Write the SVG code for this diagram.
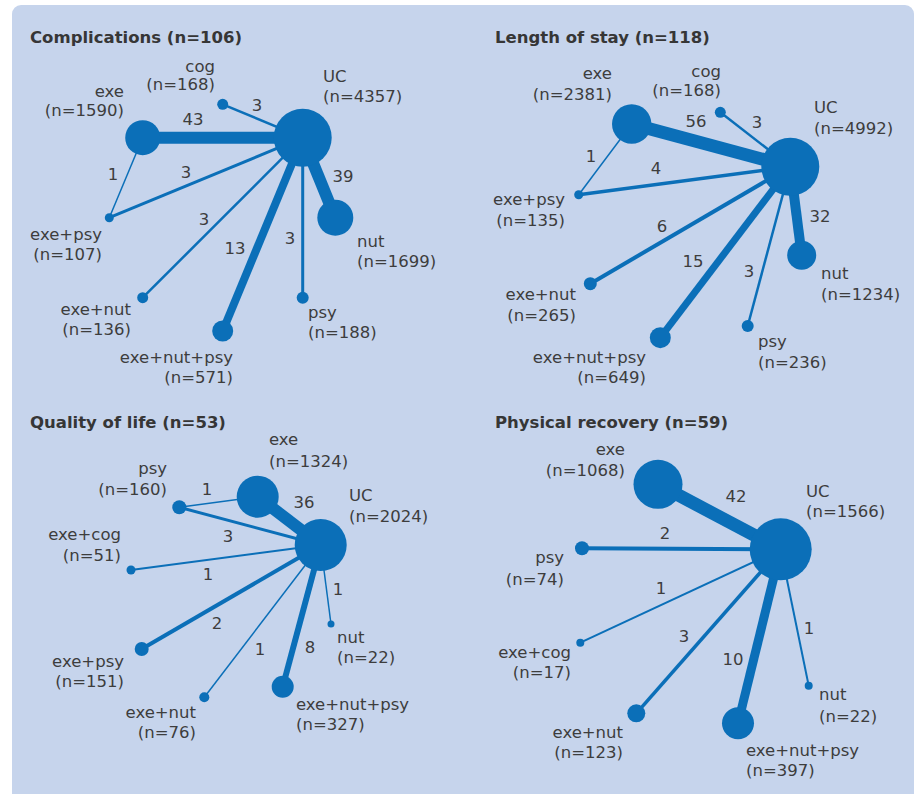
<svg xmlns="http://www.w3.org/2000/svg" width="916" height="794" viewBox="0 0 916 794">
<style>
.bg{fill:#c6d4ec}
.n{fill:#0b6fb8}
.e{stroke:#0b6fb8;fill:none;stroke-linecap:butt}
text{font-family:"DejaVu Sans","Liberation Sans",sans-serif;font-size:16.5px;fill:#3d3d3d}
.t{font-weight:bold;fill:#363636}
.r{text-anchor:end}
.m{text-anchor:middle}
</style>
<rect x="0" y="0" width="916" height="794" fill="#ffffff"/>
<rect class="bg" x="12" y="5" width="902" height="810" rx="9"/>

<!-- Panel 1: Complications -->
<text class="t" x="30" y="43">Complications (n=106)</text>
<g id="p1-connectors">
<line class="e" x1="142.7" y1="137.7" x2="302.7" y2="137.7" stroke-width="12"/>
<line class="e" x1="222.7" y1="104.3" x2="302.7" y2="137.7" stroke-width="2.5"/>
<line class="e" x1="142.7" y1="137.7" x2="109.3" y2="217.7" stroke-width="1.5"/>
<line class="e" x1="109.3" y1="217.7" x2="302.7" y2="137.7" stroke-width="3"/>
<line class="e" x1="142.7" y1="297.7" x2="302.7" y2="137.7" stroke-width="2.5"/>
<line class="e" x1="222.7" y1="331" x2="302.7" y2="137.7" stroke-width="8"/>
<line class="e" x1="302.7" y1="297.7" x2="302.7" y2="137.7" stroke-width="3"/>
<line class="e" x1="335.3" y1="217.7" x2="302.7" y2="137.7" stroke-width="12"/>
<text class="m" x="193" y="125">43</text>
<text class="m" x="257" y="111">3</text>
<text class="m" x="113" y="180">1</text>
<text class="m" x="186" y="178">3</text>
<text class="m" x="204" y="225">3</text>
<text class="m" x="235" y="254">13</text>
<text class="m" x="290" y="244">3</text>
<text class="m" x="343" y="182">39</text>
</g>
<g id="p1-uc"><circle class="n" cx="302.7" cy="137.7" r="29"/><text x="323" y="82">UC</text><text x="323" y="101.5">(n=4357)</text></g>
<g id="p1-exe"><circle class="n" cx="142.7" cy="137.7" r="17.5"/><text class="r" x="124" y="97">exe</text><text class="r" x="124" y="116">(n=1590)</text></g>
<g id="p1-cog"><circle class="n" cx="222.7" cy="104.3" r="5.5"/><text class="r" x="215" y="72">cog</text><text class="r" x="215" y="90">(n=168)</text></g>
<g id="p1-exe-psy"><circle class="n" cx="109.3" cy="217.7" r="4.5"/><text class="r" x="102" y="240">exe+psy</text><text class="r" x="102" y="260">(n=107)</text></g>
<g id="p1-exe-nut"><circle class="n" cx="142.7" cy="297.7" r="5.5"/><text class="r" x="131" y="315">exe+nut</text><text class="r" x="131" y="335">(n=136)</text></g>
<g id="p1-exe-nut-psy"><circle class="n" cx="222.7" cy="331" r="10.5"/><text class="r" x="233" y="363">exe+nut+psy</text><text class="r" x="233" y="383">(n=571)</text></g>
<g id="p1-psy"><circle class="n" cx="302.7" cy="297.7" r="6"/><text x="308" y="318">psy</text><text x="308" y="338">(n=188)</text></g>
<g id="p1-nut"><circle class="n" cx="335.3" cy="217.7" r="18"/><text x="357" y="247">nut</text><text x="357" y="267">(n=1699)</text></g>

<!-- Panel 2: Length of stay -->
<text class="t" x="495" y="43">Length of stay (n=118)</text>
<g id="p2-connectors">
<line class="e" x1="631.7" y1="124" x2="790.3" y2="166.7" stroke-width="13"/>
<line class="e" x1="720.3" y1="112.3" x2="790.3" y2="166.7" stroke-width="2.5"/>
<line class="e" x1="631.7" y1="124" x2="578.7" y2="194.7" stroke-width="1.5"/>
<line class="e" x1="578.7" y1="194.7" x2="790.3" y2="166.7" stroke-width="3.5"/>
<line class="e" x1="590.3" y1="283.7" x2="790.3" y2="166.7" stroke-width="4"/>
<line class="e" x1="660.3" y1="337.7" x2="790.3" y2="166.7" stroke-width="7"/>
<line class="e" x1="747.7" y1="326" x2="790.3" y2="166.7" stroke-width="2.5"/>
<line class="e" x1="801.7" y1="255.3" x2="790.3" y2="166.7" stroke-width="10"/>
<text class="m" x="696" y="127">56</text>
<text class="m" x="757" y="128">3</text>
<text class="m" x="591" y="162">1</text>
<text class="m" x="656" y="174">4</text>
<text class="m" x="662" y="232">6</text>
<text class="m" x="693" y="267">15</text>
<text class="m" x="749" y="277">3</text>
<text class="m" x="820" y="222">32</text>
</g>
<g id="p2-uc"><circle class="n" cx="790.3" cy="166.7" r="29"/><text x="814" y="113">UC</text><text x="814" y="134">(n=4992)</text></g>
<g id="p2-exe"><circle class="n" cx="631.7" cy="124" r="19.7"/><text class="r" x="612" y="79">exe</text><text class="r" x="612" y="100">(n=2381)</text></g>
<g id="p2-cog"><circle class="n" cx="720.3" cy="112.3" r="5.5"/><text class="r" x="721" y="77">cog</text><text class="r" x="721" y="96">(n=168)</text></g>
<g id="p2-exe-psy"><circle class="n" cx="578.7" cy="194.7" r="4.5"/><text class="r" x="565" y="205">exe+psy</text><text class="r" x="565" y="226">(n=135)</text></g>
<g id="p2-exe-nut"><circle class="n" cx="590.3" cy="283.7" r="6.5"/><text class="r" x="576" y="300">exe+nut</text><text class="r" x="576" y="321">(n=265)</text></g>
<g id="p2-exe-nut-psy"><circle class="n" cx="660.3" cy="337.7" r="10.5"/><text class="r" x="646" y="363">exe+nut+psy</text><text class="r" x="646" y="383">(n=649)</text></g>
<g id="p2-psy"><circle class="n" cx="747.7" cy="326" r="6"/><text x="758" y="347">psy</text><text x="758" y="368">(n=236)</text></g>
<g id="p2-nut"><circle class="n" cx="801.7" cy="255.3" r="14.5"/><text x="821" y="279">nut</text><text x="821" y="300">(n=1234)</text></g>

<!-- Panel 3: Quality of life -->
<text class="t" x="30" y="428">Quality of life (n=53)</text>
<g id="p3-connectors">
<line class="e" x1="179.3" y1="507.3" x2="257.7" y2="496.7" stroke-width="1.5"/>
<line class="e" x1="257.7" y1="496.7" x2="320.7" y2="545" stroke-width="12"/>
<line class="e" x1="179.3" y1="507.3" x2="320.7" y2="545" stroke-width="3"/>
<line class="e" x1="131" y1="570" x2="320.7" y2="545" stroke-width="2"/>
<line class="e" x1="141.7" y1="649" x2="320.7" y2="545" stroke-width="4"/>
<line class="e" x1="204.3" y1="697.3" x2="320.7" y2="545" stroke-width="1.5"/>
<line class="e" x1="282.7" y1="686.7" x2="320.7" y2="545" stroke-width="6"/>
<line class="e" x1="331" y1="624" x2="320.7" y2="545" stroke-width="1.5"/>
<text class="m" x="207" y="495">1</text>
<text class="m" x="304" y="508">36</text>
<text class="m" x="228" y="542">3</text>
<text class="m" x="208" y="580">1</text>
<text class="m" x="217" y="629">2</text>
<text class="m" x="260" y="655">1</text>
<text class="m" x="310" y="653">8</text>
<text class="m" x="338" y="595">1</text>
</g>
<g id="p3-uc"><circle class="n" cx="320.7" cy="545" r="26"/><text x="349" y="501">UC</text><text x="349" y="522">(n=2024)</text></g>
<g id="p3-exe"><circle class="n" cx="257.7" cy="496.7" r="21"/><text x="269" y="445">exe</text><text x="269" y="467">(n=1324)</text></g>
<g id="p3-psy"><circle class="n" cx="179.3" cy="507.3" r="7"/><text class="r" x="167" y="474">psy</text><text class="r" x="167" y="495">(n=160)</text></g>
<g id="p3-exe-cog"><circle class="n" cx="131" cy="570" r="4.5"/><text class="r" x="121" y="540">exe+cog</text><text class="r" x="121" y="561">(n=51)</text></g>
<g id="p3-exe-psy"><circle class="n" cx="141.7" cy="649" r="7"/><text class="r" x="124" y="667">exe+psy</text><text class="r" x="124" y="687">(n=151)</text></g>
<g id="p3-exe-nut"><circle class="n" cx="204.3" cy="697.3" r="5"/><text class="r" x="196" y="718">exe+nut</text><text class="r" x="196" y="738">(n=76)</text></g>
<g id="p3-exe-nut-psy"><circle class="n" cx="282.7" cy="686.7" r="11"/><text x="296" y="710">exe+nut+psy</text><text x="296" y="730">(n=327)</text></g>
<g id="p3-nut"><circle class="n" cx="331" cy="624" r="3.5"/><text x="337" y="643">nut</text><text x="337" y="663">(n=22)</text></g>

<!-- Panel 4: Physical recovery -->
<text class="t" x="495" y="428">Physical recovery (n=59)</text>
<g id="p4-connectors">
<line class="e" x1="658" y1="484.3" x2="780.7" y2="549.3" stroke-width="13"/>
<line class="e" x1="582" y1="548.3" x2="780.7" y2="549.3" stroke-width="4"/>
<line class="e" x1="580.3" y1="642.7" x2="780.7" y2="549.3" stroke-width="2"/>
<line class="e" x1="636.3" y1="713.3" x2="780.7" y2="549.3" stroke-width="3.5"/>
<line class="e" x1="738" y1="723.3" x2="780.7" y2="549.3" stroke-width="9"/>
<line class="e" x1="808.7" y1="685.7" x2="780.7" y2="549.3" stroke-width="2"/>
<text class="m" x="736" y="502">42</text>
<text class="m" x="665" y="539">2</text>
<text class="m" x="661" y="594">1</text>
<text class="m" x="684" y="642">3</text>
<text class="m" x="733" y="665">10</text>
<text class="m" x="809" y="634">1</text>
</g>
<g id="p4-uc"><circle class="n" cx="780.7" cy="549.3" r="31"/><text x="806" y="497">UC</text><text x="806" y="517">(n=1566)</text></g>
<g id="p4-exe"><circle class="n" cx="658" cy="484.3" r="24.5"/><text class="r" x="625" y="455">exe</text><text class="r" x="625" y="476">(n=1068)</text></g>
<g id="p4-psy"><circle class="n" cx="582" cy="548.3" r="7"/><text class="r" x="564" y="563">psy</text><text class="r" x="564" y="585">(n=74)</text></g>
<g id="p4-exe-cog"><circle class="n" cx="580.3" cy="642.7" r="4"/><text class="r" x="571" y="658">exe+cog</text><text class="r" x="571" y="678">(n=17)</text></g>
<g id="p4-exe-nut"><circle class="n" cx="636.3" cy="713.3" r="9"/><text class="r" x="623" y="738">exe+nut</text><text class="r" x="623" y="758">(n=123)</text></g>
<g id="p4-exe-nut-psy"><circle class="n" cx="738" cy="723.3" r="16"/><text x="746" y="756">exe+nut+psy</text><text x="746" y="776">(n=397)</text></g>
<g id="p4-nut"><circle class="n" cx="808.7" cy="685.7" r="4"/><text x="819" y="700">nut</text><text x="819" y="722">(n=22)</text></g>
</svg>
